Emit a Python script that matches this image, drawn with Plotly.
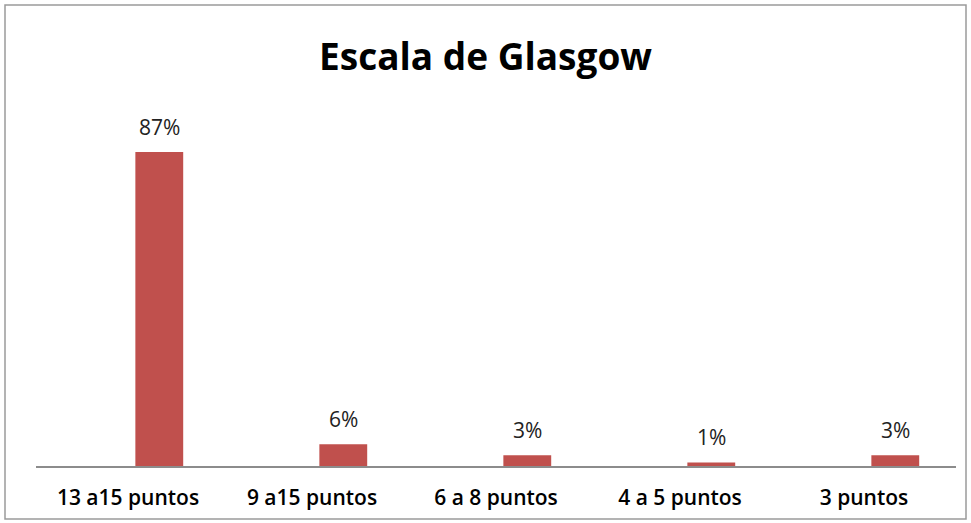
import plotly.graph_objects as go

categories = ["13 a15 puntos", "9 a15 puntos", "6 a 8 puntos", "4 a 5 puntos", "3 puntos"]
values = [87, 6, 3, 1, 3]
labels = ["87%", "6%", "3%", "1%", "3%"]

W, H = 971, 523
ml, mr, mt, mb = 36, 15, 105, 57
pw, ph = W - ml - mr, H - mt - mb

BAR_W, BAR_OFF = 0.26, 0.04

fig = go.Figure(go.Bar(
    x=categories, y=values,
    width=BAR_W, offset=BAR_OFF,
    marker=dict(color="#C0504D", line=dict(width=0)),
    hoverinfo="x+y",
))

for i, (v, t) in enumerate(zip(values, labels)):
    fig.add_annotation(
        x=i + BAR_OFF + BAR_W / 2, y=v, xref="x", yref="y",
        text=t, showarrow=False, yanchor="middle", yshift=25,
        font=dict(family="Open Sans", size=21, color="#222222"),
    )

def px_x(p):
    return (p - ml) / pw

def px_y(p):
    return (H - mb - p) / ph

fig.update_layout(
    width=W, height=H,
    margin=dict(l=ml, r=mr, t=mt, b=mb),
    paper_bgcolor="white", plot_bgcolor="white",
    title=dict(text="<b>Escala de Glasgow</b>", x=0.5, xanchor="center",
               y=1 - 57 / H, yanchor="middle",
               font=dict(family="Open Sans", size=37, color="black")),
    xaxis=dict(showgrid=False, showline=True, linecolor="#8c8c8c", linewidth=1.5,
               ticks="", tickfont=dict(family="Open Sans", size=21, color="black", weight=600),
               ticklabelstandoff=12, range=[-0.5, len(categories) - 0.5]),
    yaxis=dict(range=[0, 100], visible=False, showgrid=False),
    showlegend=False,
    shapes=[dict(type="rect", xref="paper", yref="paper",
                 x0=px_x(5), x1=px_x(966), y0=px_y(519), y1=px_y(5),
                 line=dict(color="#9a9a9a", width=1.5), layer="below")],
)

fig.write_html("out.html")
